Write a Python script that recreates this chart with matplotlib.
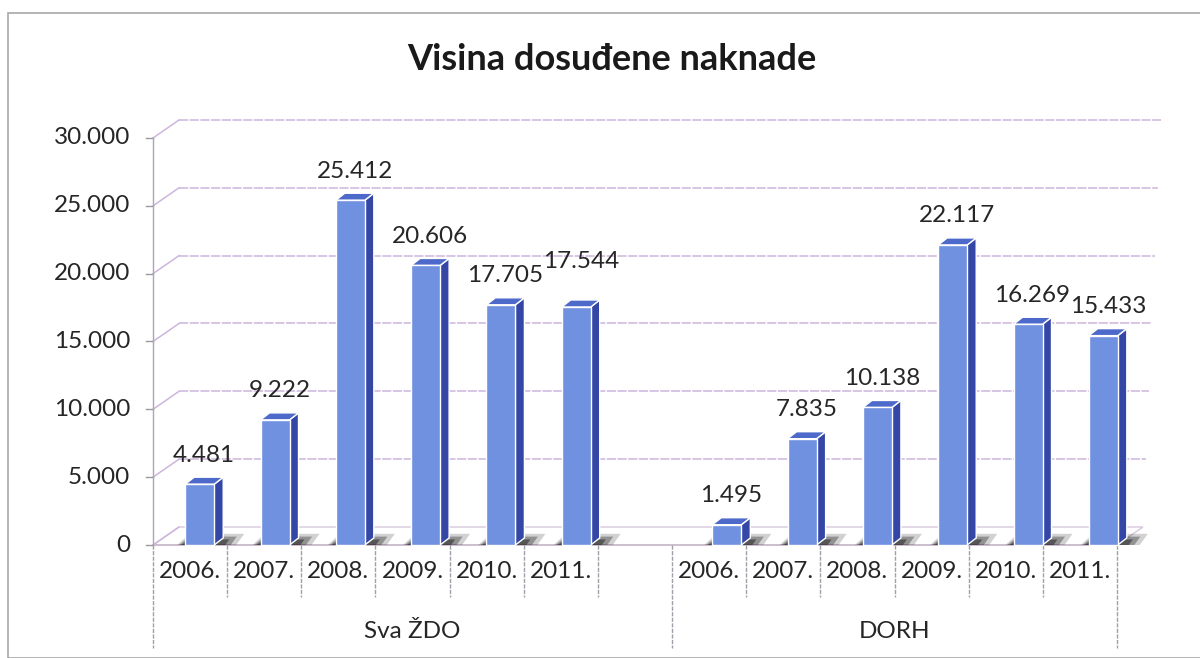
import matplotlib.pyplot as plt
from matplotlib.patches import Polygon, Rectangle
import numpy as np

# podaci
groups = ['Sva ŽDO', 'DORH']
years = ['2006.', '2007.', '2008.', '2009.', '2010.', '2011.']
sva_zdo = [4481, 9222, 25412, 20606, 17705, 17544]
dorh = [1495, 7835, 10138, 22117, 16269, 15433]
yticks = [0, 5000, 10000, 15000, 20000, 25000, 30000]
title = 'Visina dosuđene naknade'

plt.rcParams['font.family'] = ['Lato', 'DejaVu Sans']
FS = 17.5

# geometrija (px -> podatkovne jedinice)
SLOT_PX = 74.15
SY = 13.567 / 1000.0
X0_PX, Y0_PX = 153, 113


def px_x(p):
    return p / SLOT_PX


def px_y(p):
    return p / SY


fig = plt.figure(figsize=(12, 6.58), dpi=100)
ax = fig.add_axes([0, 0, 1, 1])
ax.set_xlim(-px_x(X0_PX), px_x(1200 - X0_PX))
ax.set_ylim(-px_y(Y0_PX), px_y(658 - Y0_PX))
ax.axis('off')

# okvir grafikona
fig.patches.append(Rectangle((8, 0), 1300, 645, transform=None, fill=False,
                             edgecolor='#a8a8a8', lw=1.2))

# 13 mjesta: 6 + prazno + 6
values = sva_zdo + [None] + dorh
labels = years + [''] + years
n = len(values)

wall_dx, wall_dy = px_x(26), px_y(18)
grid_col = '#cdb6dc'

# pod
floor = Polygon([(0, 0), (n, 0), (n + wall_dx, wall_dy), (wall_dx, wall_dy)],
                closed=True, facecolor='white', edgecolor='#d8c8dc', lw=1.0, zorder=1)
ax.add_patch(floor)
ax.plot([0, n], [0, 0], color='#c9b9cc', lw=1.2, zorder=1)

# mreza na straznjem zidu
for v in yticks:
    x_end = n + wall_dx + px_x(18) * v / 30000
    if v > 0:
        ax.plot([wall_dx, x_end], [v + wall_dy, v + wall_dy], color=grid_col, lw=1.1,
                ls=(0, (6, 1)), zorder=1)
    ax.plot([0, wall_dx], [v, v + wall_dy], color=grid_col, lw=1.1, zorder=1)
    ax.plot([-px_x(7), 0], [v, v], color='#9a9a9a', lw=1.0, zorder=1)
    lab = '0' if v == 0 else f'{v:,}'.replace(',', '.')
    ax.text(-px_x(23), v, lab, ha='right', va='center', fontsize=FS, color='#262626')

# os y
ax.plot([0, 0], [0, yticks[-1]], color='#a8a8b8', lw=1.0, zorder=1)

# stupci
front_c, side_c, top_c = '#7090e0', '#3447a6', '#4d69c9'
bw = px_x(29)
ddx, ddy = px_x(9), px_y(7)
lift = {5: 16}  # oznaka 17.544 pomaknuta gore kao u Excelu
for i, v in enumerate(values):
    if v is None:
        continue
    cx = 0.63 + 1.0155 * i
    x1, x2 = cx - bw / 2, cx + bw / 2
    # sjena
    for k, a in [(1.0, 0.2), (0.75, 0.35), (0.5, 0.5)]:
        sh = Polygon([(x1 - px_x(8) * k, 0), (x2 + px_x(22) * k, 0),
                      (x2 + px_x(30) * k, ddy * 1.6 * k), (x1 + px_x(4), ddy * 1.6 * k)],
                     closed=True, facecolor='#1a1a1a', alpha=a, lw=0, zorder=2)
        ax.add_patch(sh)
    ax.add_patch(Polygon([(x2, 0), (x2 + ddx, ddy), (x2 + ddx, v + ddy), (x2, v)],
                         closed=True, facecolor=side_c, edgecolor='white', lw=1.0, zorder=3))
    ax.add_patch(Polygon([(x1, v), (x2, v), (x2 + ddx, v + ddy), (x1 + ddx, v + ddy)],
                         closed=True, facecolor=top_c, edgecolor='white', lw=1.0, zorder=3))
    ax.bar(cx, v, width=bw, color=front_c, edgecolor='white', lw=1.0, zorder=4)
    ax.text(cx + ddx / 2, v + ddy + px_y(22 + lift.get(i, 0)), f'{v:,}'.replace(',', '.'),
            ha='center', va='center', fontsize=FS, color='#262626')

# kategorijska os
div_col = '#a0a0a8'
long_div = [0, 7, 13]
for j in range(n + 1):
    bottom = -px_y(103) if j in long_div else -px_y(52)
    ax.plot([j, j], [0, bottom], color=div_col, lw=1.0, ls=(0, (3, 1)), zorder=1)
for i, lab in enumerate(labels):
    ax.text(i + 0.5, -px_y(26), lab, ha='center', va='center', fontsize=FS, color='#262626')
ax.text(3.5, -px_y(87), groups[0], ha='center', va='center', fontsize=FS, color='#262626')
ax.text(10.0, -px_y(87), groups[1], ha='center', va='center', fontsize=FS, color='#262626')

# naslov
fig.text(0.51, 1 - 60 / 658, title, ha='center', va='center', fontsize=26,
         fontweight='bold', color='#1a1a1a')

fig.savefig('out.png', dpi=100)
